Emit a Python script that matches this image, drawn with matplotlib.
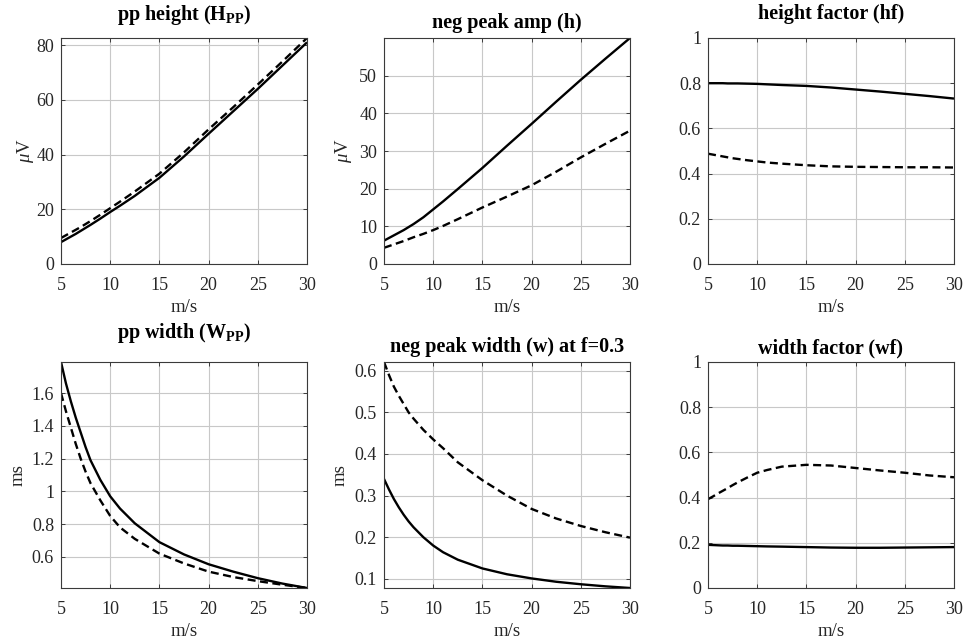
#!/usr/bin/env python3

import matplotlib
matplotlib.use("Agg")
import matplotlib.pyplot as plt
from matplotlib.ticker import FormatStrFormatter

# wind speed (m/s), shared by every panel
speed = [5, 5.5, 6, 6.5, 7, 7.5, 8, 9, 10, 11, 12.5, 15, 17.5, 20, 22.5, 25, 27.5, 30]

# peak-to-peak height (uV)
hpp_solid = [8.0, 9.0, 10.0, 11.0, 12.1, 13.2, 14.3, 16.6, 19.0, 21.3, 24.9, 31.5,
             39.3, 47.6, 55.8, 64.0, 72.5, 81.0]
hpp_dashed = [9.5, 10.5, 11.5, 12.5, 13.5, 14.6, 15.7, 18.0, 20.4, 22.8, 26.5, 33.0,
              40.8, 49.2, 57.3, 65.6, 74.0, 82.6]

# negative peak amplitude (uV)
h_solid = [6.2, 6.9, 7.6, 8.3, 9.0, 9.8, 10.6, 12.4, 14.5, 16.6, 19.9, 25.5,
           31.4, 37.2, 43.1, 48.9, 54.5, 60.0]
h_dashed = [4.3, 4.75, 5.2, 5.65, 6.1, 6.6, 7.1, 8.0, 9.0, 10.1, 11.9, 15.0,
            17.9, 20.9, 24.5, 28.3, 31.9, 35.4]

# height factor
hf_solid = [0.800, 0.800, 0.800, 0.800, 0.799, 0.799, 0.799, 0.798, 0.797, 0.795,
            0.792, 0.788, 0.781, 0.772, 0.763, 0.753, 0.743, 0.732]
hf_dashed = [0.488, 0.484, 0.480, 0.476, 0.472, 0.468, 0.465, 0.459, 0.454, 0.449,
             0.444, 0.437, 0.432, 0.430, 0.429, 0.428, 0.428, 0.427]

# peak-to-peak width (ms)
wpp_solid = [1.79, 1.66, 1.55, 1.45, 1.36, 1.27, 1.19, 1.07, 0.97, 0.895, 0.805, 0.69,
             0.615, 0.555, 0.51, 0.47, 0.437, 0.41]
wpp_dashed = [1.60, 1.49, 1.39, 1.29, 1.20, 1.12, 1.05, 0.945, 0.85, 0.78, 0.71, 0.62,
              0.56, 0.51, 0.477, 0.452, 0.43, 0.41]

# negative peak width at f=0.3 (ms)
w_solid = [0.34, 0.315, 0.292, 0.272, 0.254, 0.238, 0.224, 0.200, 0.180, 0.164, 0.146,
           0.125, 0.111, 0.101, 0.093, 0.087, 0.082, 0.078]
w_dashed = [0.621, 0.59, 0.562, 0.54, 0.52, 0.50, 0.485, 0.458, 0.435, 0.414, 0.38,
            0.337, 0.30, 0.268, 0.245, 0.227, 0.212, 0.199]

# width factor
wf_solid = [0.191, 0.190, 0.189, 0.188, 0.188, 0.187, 0.187, 0.186, 0.185, 0.184,
            0.183, 0.181, 0.179, 0.178, 0.178, 0.179, 0.180, 0.181]
wf_dashed = [0.393, 0.405, 0.418, 0.430, 0.442, 0.455, 0.467, 0.489, 0.510, 0.522,
             0.537, 0.545, 0.542, 0.531, 0.520, 0.510, 0.498, 0.490]

x_ticks = [5, 10, 15, 20, 25, 30]

TEXT = "#262626"
FS = 13


def setup_axes(ax, title, title_off, ylabel, ylabel_off, ylim, yticks):
    ax.set_xlim(5, 30)
    ax.set_ylim(*ylim)
    ax.set_xticks(x_ticks)
    ax.set_yticks(yticks)
    ax.yaxis.set_major_formatter(FormatStrFormatter("%g"))
    ax.grid(True, color="#c8c8c8", linewidth=0.8)
    ax.set_axisbelow(True)
    ax.tick_params(direction="in", length=3, width=0.6, colors=TEXT,
                   labelsize=FS, top=True, right=True, pad=5)
    ax.tick_params(axis="x", pad=9)
    for s in ax.spines.values():
        s.set_color("#3a3a3a")
        s.set_linewidth(0.8)

    h = ax.get_position().height * 643
    w = ax.get_position().width * 968
    ax.set_title(title, fontsize=14.5, fontweight="bold", color="black",
                 y=1 + title_off / h, pad=0, va="center")

    ax.set_xlabel("m/s", fontsize=13.5, color=TEXT)
    ax.xaxis.set_label_coords(0.5, -44 / h)
    ax.xaxis.label.set_va("center")
    if ylabel:
        ax.set_ylabel(ylabel, fontsize=13.5, color=TEXT)
        ax.yaxis.set_label_coords(-ylabel_off / w, 0.5)
        ax.yaxis.label.set_va("center")


def main():
    plt.rcParams["font.family"] = ["Liberation Serif", "DejaVu Serif"]
    plt.rcParams["mathtext.fontset"] = "custom"
    plt.rcParams["mathtext.rm"] = "Liberation Serif"
    plt.rcParams["mathtext.it"] = "Liberation Serif:italic"
    plt.rcParams["mathtext.bf"] = "Liberation Serif:bold"

    fig = plt.figure(figsize=(9.68, 6.43), dpi=100)

    lefts = [61 / 968, 384 / 968, 708 / 968]
    width = 246 / 968
    height = 226 / 643
    bottoms = [(643 - 264) / 643, (643 - 588) / 643]

    panels = [
        (hpp_solid, hpp_dashed, r"pp height (H$_{\mathbf{PP}}$)", 23, r"$\mu$V", 35,
         (0, max(hpp_dashed)), [0, 20, 40, 60, 80]),
        (h_solid, h_dashed, "neg peak amp (h)", 15, r"$\mu$V", 40,
         (0, max(h_solid)), [0, 10, 20, 30, 40, 50]),
        (hf_solid, hf_dashed, "height factor (hf)", 24, None, 0,
         (0, 1), [0, 0.2, 0.4, 0.6, 0.8, 1]),
        (wpp_solid, wpp_dashed, r"pp width (W$_{\mathbf{PP}}$)", 29, "ms", 43,
         (min(wpp_solid), max(wpp_solid)), [0.6, 0.8, 1, 1.2, 1.4, 1.6]),
        (w_solid, w_dashed, "neg peak width (w) at f=0.3", 15, "ms", 44,
         (min(w_solid), max(w_dashed)), [0.1, 0.2, 0.3, 0.4, 0.5, 0.6]),
        (wf_solid, wf_dashed, "width factor (wf)", 14, None, 0,
         (0, 1), [0, 0.2, 0.4, 0.6, 0.8, 1]),
    ]

    for i, (solid, dashed, title, t_off, ylabel, y_off, ylim, yticks) in enumerate(panels):
        ax = fig.add_axes([lefts[i % 3], bottoms[i // 3], width, height])
        ax.plot(speed, solid, color="black", linewidth=1.7, solid_capstyle="butt")
        ax.plot(speed, dashed, color="black", linewidth=1.7, linestyle=(0, (3.4, 1.9)))
        setup_axes(ax, title, t_off, ylabel, y_off, ylim, yticks)

    fig.savefig("out.png", dpi=100)


if __name__ == "__main__":
    main()
